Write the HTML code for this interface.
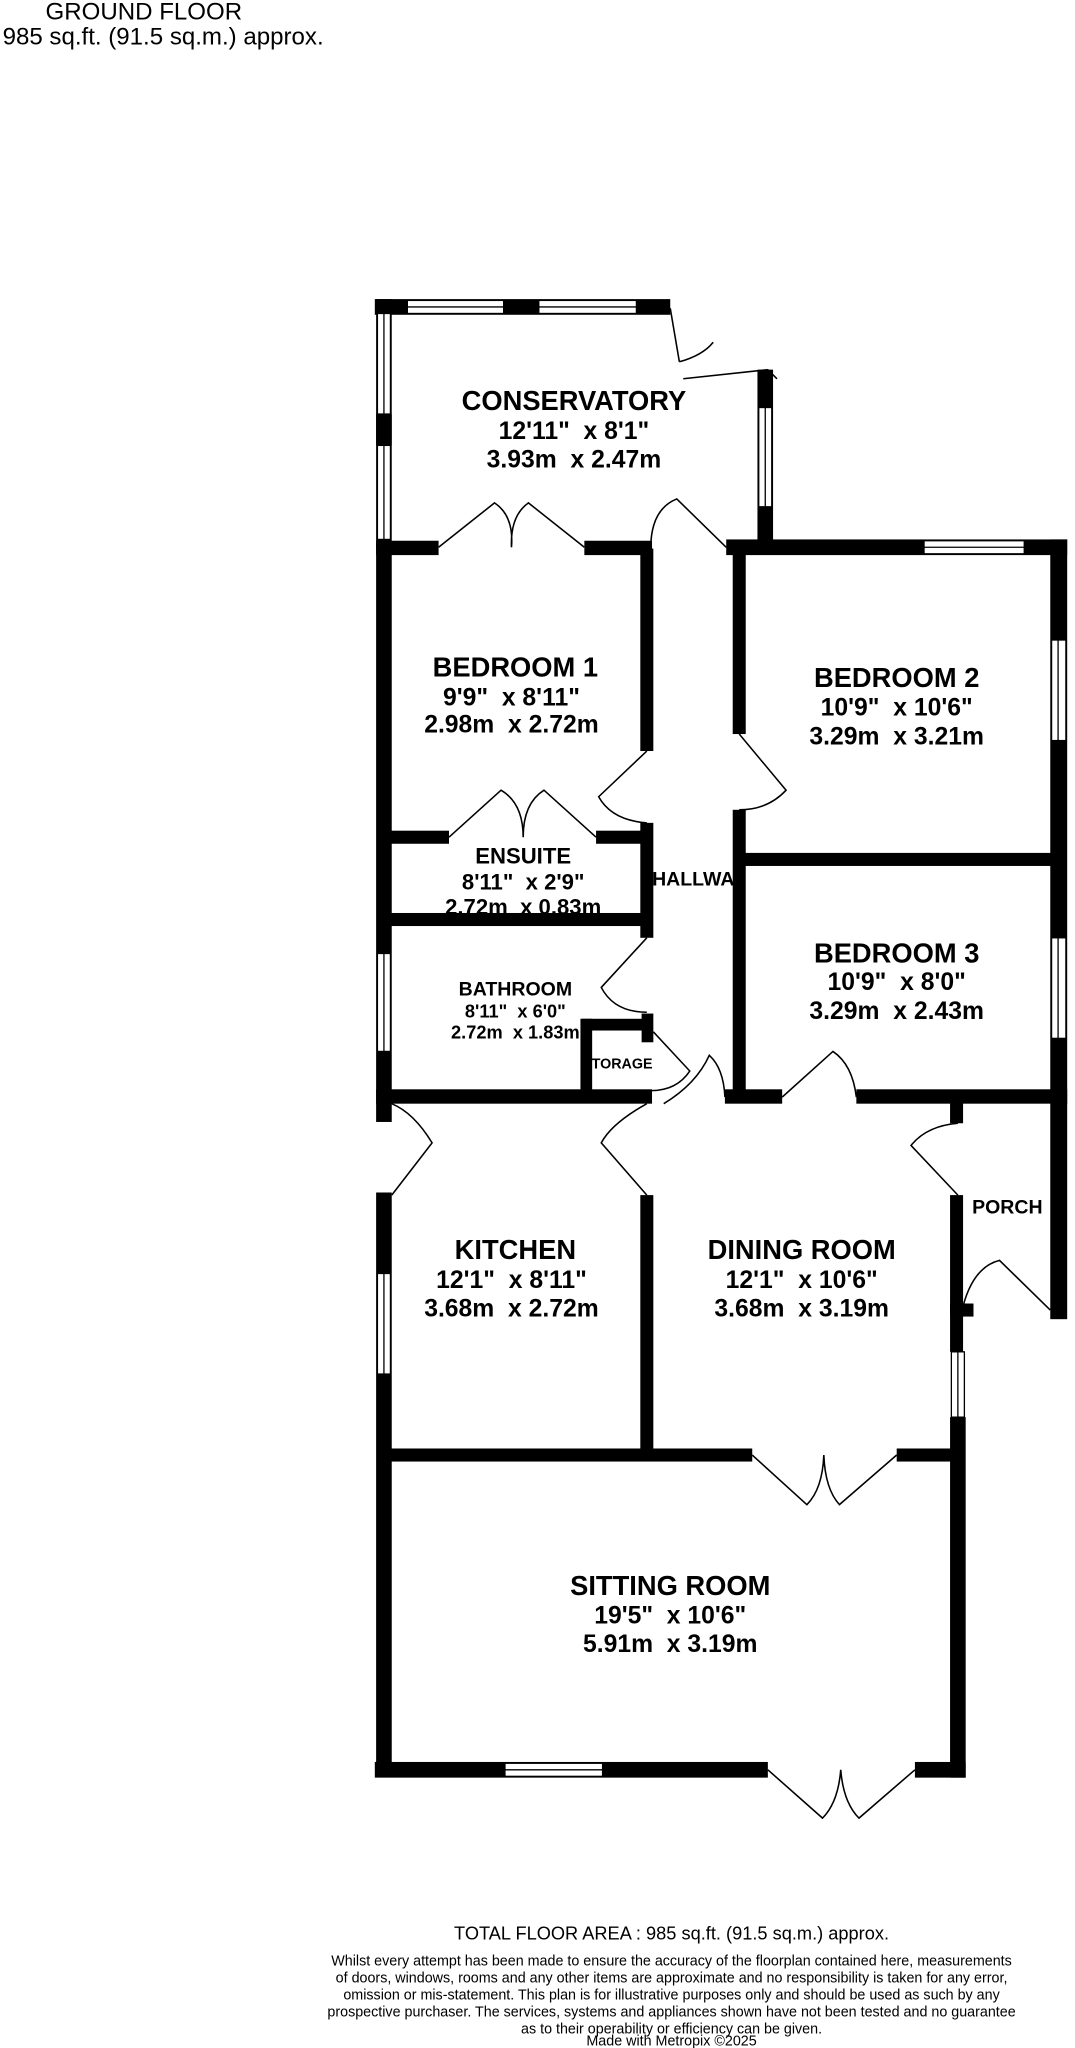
<!DOCTYPE html>
<html><head><meta charset="utf-8"><style>
html,body{margin:0;padding:0;background:#fff;width:1075px;height:2048px;overflow:hidden}
svg{display:block}
text{font-family:"Liberation Sans",Arial,sans-serif;fill:#000;white-space:pre}
.b{font-weight:bold}
</style></head><body>
<svg width="1075" height="2048" viewBox="0 0 826 1568" preserveAspectRatio="none">
<g fill="#000">
<rect x="288" y="229" width="227" height="12"/>
<rect x="289" y="229" width="12" height="191"/>
<rect x="582" y="283" width="12" height="138"/>
<rect x="289" y="414" width="48" height="11"/>
<rect x="449" y="414" width="52" height="11"/>
<rect x="558" y="413" width="262" height="12"/>
<rect x="289" y="414" width="12" height="445"/>
<rect x="289" y="913" width="12" height="447"/>
<rect x="807" y="413" width="13" height="597"/>
<rect x="492" y="420" width="10" height="155"/>
<rect x="492" y="630" width="10" height="88"/>
<rect x="563" y="420" width="10" height="142"/>
<rect x="563" y="620" width="10" height="220"/>
<rect x="568" y="653" width="250" height="10"/>
<rect x="300" y="636" width="45" height="10"/>
<rect x="458" y="636" width="40" height="10"/>
<rect x="300" y="699" width="200" height="10"/>
<rect x="447" y="780" width="53" height="9"/>
<rect x="446" y="780" width="9" height="60"/>
<rect x="493" y="776" width="9" height="22"/>
<rect x="289" y="834" width="212" height="11"/>
<rect x="557" y="834" width="44" height="11"/>
<rect x="658" y="834" width="162" height="11"/>
<rect x="492" y="915" width="10" height="200"/>
<rect x="730" y="840" width="10" height="20"/>
<rect x="730" y="915" width="10" height="120"/>
<rect x="730" y="998" width="18" height="10"/>
<rect x="730" y="1085" width="12" height="276"/>
<rect x="295" y="1109" width="283" height="10"/>
<rect x="689" y="1109" width="50" height="10"/>
<rect x="288" y="1349" width="302" height="12"/>
<rect x="703" y="1349" width="39" height="12"/>
<rect x="289" y="317" width="12" height="24"/>
</g>
<g fill="#fff" stroke="#000" stroke-width="1">
<rect x="313" y="230" width="74" height="10"/><line x1="313" y1="235" x2="387" y2="235"/>
<rect x="414" y="230" width="75" height="10"/><line x1="414" y1="235" x2="489" y2="235"/>
<rect x="290" y="240" width="10" height="77"/><line x1="295" y1="240" x2="295" y2="317"/>
<rect x="290" y="341" width="10" height="72"/><line x1="295" y1="341" x2="295" y2="413"/>
<rect x="583" y="312" width="10" height="76"/><line x1="588" y1="312" x2="588" y2="388"/>
<rect x="710" y="414" width="77" height="10"/><line x1="710" y1="419" x2="787" y2="419"/>
<rect x="808" y="490" width="11" height="77"/><line x1="813" y1="490" x2="813" y2="567"/>
<rect x="808" y="718" width="11" height="77"/><line x1="813" y1="718" x2="813" y2="795"/>
<rect x="290" y="730" width="10" height="75"/><line x1="295" y1="730" x2="295" y2="805"/>
<rect x="290" y="975" width="10" height="77"/><line x1="295" y1="975" x2="295" y2="1052"/>
<rect x="731" y="1035" width="10" height="50"/><line x1="736" y1="1035" x2="736" y2="1085"/>
<rect x="388" y="1350" width="75" height="10"/><line x1="388" y1="1355" x2="463" y2="1355"/>
</g>
<g fill="none" stroke="#000" stroke-width="1.2">
<path d="M515 236 L522 277 M522 277 Q540 272 548 262"/>
<path d="M525 290 L590 283 M590 283 L597 290"/>
<path d="M337 419 L380 385 Q395 395 393 419 M449 419 L406 385 Q392 395 393 419"/>
<path d="M500 420 Q500 390 520 382 L558 419"/>
<path d="M497 575 L460 610 Q470 628 497 630"/>
<path d="M568 562 L604 605 Q590 620 568 620"/>
<path d="M345 641 L385 605 Q402 615 402 641 M458 641 L418 605 Q402 615 402 641"/>
<path d="M497 718 L462 756 Q472 775 497 775"/>
<path d="M502 790 L530 820 Q520 835 500 835"/>
<path d="M510 845 Q535 830 545 808 Q556 818 557 840"/>
<path d="M601 840 L640 805 Q655 815 658 840"/>
<path d="M301 915 L332 875 Q318 852 301 845"/>
<path d="M497 915 L462 875 Q470 860 497 845"/>
<path d="M736 915 L700 877 Q712 862 736 860"/>
<path d="M740 1000 Q748 970 768 965 L807 1003"/>
<path d="M578 1114 L620 1152 Q632 1140 633 1114 M689 1114 L645 1152 Q634 1140 633 1114"/>
<path d="M590 1355 L632 1392 Q644 1380 646 1355 M703 1355 L660 1392 Q648 1380 646 1355"/>
</g>
<g class="b" text-anchor="middle">
<text x="441" y="314" font-size="21">CONSERVATORY</text>
<text x="441" y="336" font-size="19">12'11"  x 8'1"</text>
<text x="441" y="358" font-size="19">3.93m  x 2.47m</text>
<text x="396" y="518" font-size="21">BEDROOM 1</text>
<text x="393" y="540" font-size="19">9'9"  x 8'11"</text>
<text x="393" y="561" font-size="19">2.98m  x 2.72m</text>
<text x="689" y="526" font-size="21">BEDROOM 2</text>
<text x="689" y="548" font-size="19">10'9"  x 10'6"</text>
<text x="689" y="570" font-size="19">3.29m  x 3.21m</text>
<text x="402" y="661" font-size="17">ENSUITE</text>
<text x="402" y="681" font-size="17">8'11"  x 2'9"</text>
<text x="402" y="700" font-size="17">2.72m  x 0.83m</text>
<text x="537" y="678" font-size="15">HALLWAY</text>
<text x="689" y="737" font-size="21">BEDROOM 3</text>
<text x="689" y="758" font-size="19">10'9"  x 8'0"</text>
<text x="689" y="780" font-size="19">3.29m  x 2.43m</text>
<text x="396" y="762" font-size="15">BATHROOM</text>
<text x="396" y="779" font-size="14">8'11"  x 6'0"</text>
<text x="396" y="795" font-size="14">2.72m  x 1.83m</text>
<text x="478" y="818" font-size="11">TORAGE</text>
<text x="774" y="929" font-size="15">PORCH</text>
<text x="396" y="964" font-size="21">KITCHEN</text>
<text x="393" y="986" font-size="19">12'1"  x 8'11"</text>
<text x="393" y="1008" font-size="19">3.68m  x 2.72m</text>
<text x="616" y="964" font-size="21">DINING ROOM</text>
<text x="616" y="986" font-size="19">12'1"  x 10'6"</text>
<text x="616" y="1008" font-size="19">3.68m  x 3.19m</text>
<text x="515" y="1221" font-size="21">SITTING ROOM</text>
<text x="515" y="1243" font-size="19">19'5"  x 10'6"</text>
<text x="515" y="1265" font-size="19">5.91m  x 3.19m</text>
</g>
<text x="35" y="15" font-size="18.5">GROUND FLOOR</text>
<text x="2" y="34" font-size="18.5">985 sq.ft. (91.5 sq.m.) approx.</text>
<g text-anchor="middle">
<text x="516" y="1485" font-size="14">TOTAL FLOOR AREA : 985 sq.ft. (91.5 sq.m.) approx.</text>
<text x="516" y="1505" font-size="11">Whilst every attempt has been made to ensure the accuracy of the floorplan contained here, measurements</text>
<text x="516" y="1518" font-size="11">of doors, windows, rooms and any other items are approximate and no responsibility is taken for any error,</text>
<text x="516" y="1531" font-size="11">omission or mis-statement. This plan is for illustrative purposes only and should be used as such by any</text>
<text x="516" y="1544" font-size="11">prospective purchaser. The services, systems and appliances shown have not been tested and no guarantee</text>
<text x="516" y="1557" font-size="11">as to their operability or efficiency can be given.</text>
<text x="516" y="1566" font-size="11">Made with Metropix ©2025</text>
</g>
</svg>
</body></html>
